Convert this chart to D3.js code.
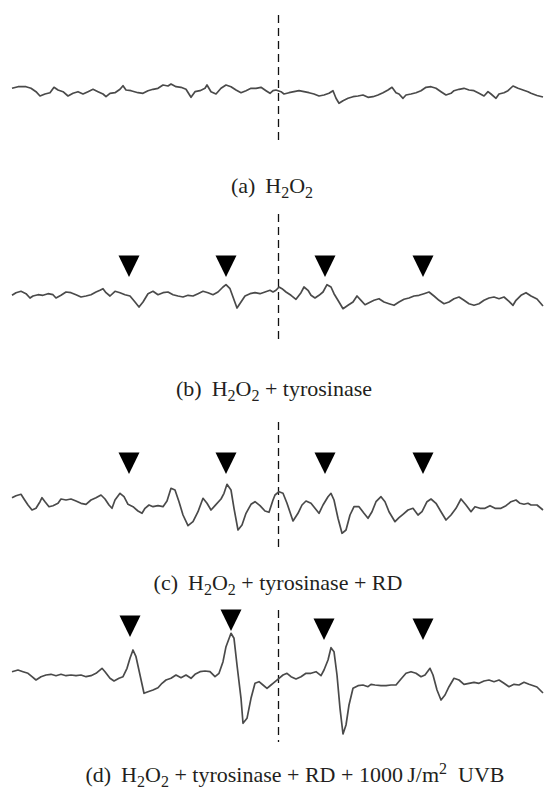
<!DOCTYPE html>
<meta charset="utf-8">
<head>
<style>
  body { margin: 0; background: #fff; }
  svg { display: block; }
  .trace { fill: none; stroke: #4a4a4a; stroke-width: 1.7; stroke-linejoin: round; }
  .center { stroke: #111; stroke-width: 1.3; stroke-dasharray: 8 5; }
  .marker { fill: #000; }
  .caption { font-family: "Liberation Serif", "Times New Roman", serif; font-size: 22px; fill: #231f20; }
</style>
<script src="https://d3js.org/d3.v7.min.js"></script>
</head>
<body>
<div id="chart"></div>
<script>
// EPR spectra, field sweep in arbitrary units, signal in arbitrary units (up = positive)
var traceA = [[0,2.7],[6,4.3],[14,4.3],[19,2.7],[24,-0.7],[28,-5],[33,-3],[38,-1.7],[42,3.7],[46,1],
  [51,-0.7],[56,-5],[61,-2.3],[66,-0.7],[71,-3],[76,-0.7],[81,1.7],[86,-0.7],[91,-3],[94,-5.7],
  [98,-2.3],[103,-1.7],[108,1.7],[111,5.3],[114,1],[119,0.3],[126,-1.7],[131,-2.3],[136,0.3],[141,1.7],
  [146,2.7],[151,6],[156,5],[159,7],[164,4.3],[169,3.7],[174,1.7],[179,-6.3],[183,-0.7],[188,0.3],
  [193,2.7],[195,6],[199,-0.7],[204,-3],[209,2.7],[214,6],[219,4.3],[224,1],[229,-1.7],[234,0.3],
  [239,2.7],[244,2.7],[249,3.7],[254,0.3],[258,-2.3],[261,0.3],[264,1],[269,-0.7],[272,-3],[277,-1.7],
  [282,-0.7],[287,0.3],[292,-0.7],[297,-1.7],[302,-3],[307,-5],[312,-4],[317,-2.3],[321,0.3],[324,-7.3],
  [327,-12.3],[331,-9.7],[336,-7.3],[341,-5.7],[346,-5],[351,-4],[356,-6.3],[361,-5.7],[366,-4],[371,-1.7],
  [376,1],[380,3.7],[384,-1.7],[387,-3],[391,-7.3],[394,-4],[399,-3],[404,-1.7],[409,0.3],[414,3.7],
  [419,4.3],[424,2.7],[429,-0.7],[434,-4],[439,-2.3],[442,0.3],[447,1.7],[452,2.7],[457,1],[462,0.3],
  [467,-2.3],[472,-5],[476,-0.7],[479,-3],[484,-7.3],[487,-3],[492,-1.7],[496,0.3],[501,5],[506,2.7],
  [511,1],[516,-0.7],[519,-2.3],[525,-4.5],[531,-6]];

var traceB = [[0,-0.3],[4,2.3],[9,3.7],[14,1.3],[18,-3],[21,-1],[26,0.3],[31,-0.3],[36,1.3],[41,0.3],
  [44,-3],[49,-0.3],[54,3],[59,2.3],[64,0.3],[69,-2],[74,-1],[79,0.3],[84,3],[88,4.7],
  [91,6.3],[94,2.3],[98,-1],[103,3.7],[108,2.3],[113,0.3],[118,-1],[123,-7],[127,-12],[131,-7],
  [136,1.3],[141,3.7],[146,0.3],[151,2.3],[156,3],[161,0.3],[166,-1],[171,-2],[176,-0.3],[181,-1],
  [186,1.3],[191,3.7],[196,2.3],[201,0.3],[206,3],[211,8],[214,10.3],[218,6.3],[221,-2],[225,-13],
  [229,-7],[233,-1],[238,1.3],[243,2.3],[248,1.3],[253,3],[258,4.7],[261,3],[264,4.7],[267,8],
  [270,6.3],[274,3],[279,-0.3],[284,-4.3],[289,2.3],[292,8],[296,4.7],[299,-0.3],[303,-3],[307,-0.3],
  [311,3],[315,10.3],[319,8],[322,1.3],[327,-7],[331,-13.7],[336,-10.3],[341,-7],[345,-1],[349,-5.3],
  [353,-9.7],[357,-7.7],[362,-5.3],[367,-3.7],[372,-7],[377,-8.7],[382,-10.3],[387,-7],[392,-4.3],[397,-3],
  [402,-1],[407,-0.3],[412,1.3],[417,3],[422,-1],[427,-5.3],[432,-8.7],[437,-7],[442,-3.7],[447,-2],
  [452,-5.3],[457,-8.7],[462,-10.3],[467,-8.7],[472,-5.3],[477,-3],[482,-2],[487,-3.7],[492,-2],[497,-6.3],
  [501,-10.3],[504,-5.3],[509,-0.3],[514,2.3],[519,-1],[525,-4],[531,-11]];

var traceC = [[0,5.3],[4,7.3],[9,8.7],[12,4],[16,-2],[20,-7],[24,-5.3],[28,1.3],[30,5.3],[33,1.3],
  [37,-3.7],[41,-2.7],[46,-0.3],[49,4],[54,3],[59,4],[64,2],[69,-0.3],[74,-1.3],[79,3],
  [84,5.3],[89,8],[93,4],[97,-2],[100,-5.3],[103,3],[108,9.7],[112,6.3],[116,-1.3],[121,-3.7],
  [126,-8],[130,-10.3],[133,-5.3],[137,-2],[141,-3.7],[146,-2.7],[151,-3.7],[155,2],[159,14.7],[163,13],
  [167,1.3],[171,-12],[176,-22.7],[181,-18.7],[186,-8.7],[191,4.7],[195,-0.3],[199,-7],[203,-2.7],[209,4],
  [212,9.7],[215,18.7],[219,13],[222,-5.3],[226,-27],[230,-22],[234,-10.3],[239,-1.3],[243,1.3],[248,-2.7],
  [253,-8],[257,-9.3],[261,3],[263,8],[267,11.3],[271,9.7],[275,-0.3],[281,-18],[286,-10.3],[290,-2],
  [294,2],[299,-0.3],[303,-5.3],[307,-10.3],[311,-2],[316,6.3],[319,9.7],[322,3],[326,-15.3],[330,-30.3],
  [334,-27],[338,-12],[342,-3.7],[347,-3.7],[352,-10.3],[356,-15.3],[360,-8.7],[364,1.3],[369,6.3],[373,1.3],
  [377,-8.7],[383,-18.7],[387,-14.7],[391,-11.3],[396,-7],[401,-5.3],[406,-12],[410,-8.7],[415,1.3],[419,4],
  [424,-0.3],[429,-8.7],[434,-17],[439,-12],[444,-5.3],[449,4],[454,-2],[459,-8.7],[463,-3.7],[468,-5.3],
  [473,-5.3],[478,-2.7],[483,-5.3],[489,-5.3],[494,-2.7],[499,1.3],[504,3],[508,-0.3],[512,-1.3],[516,-0.3],
  [519,-2],[525,-2],[531,-7]];

var traceD = [[0,5.3],[6,7],[11,5.3],[16,3.7],[20,0.3],[24,-3],[29,0.3],[34,2],[39,2.7],[44,1.3],
  [49,2.7],[54,1.3],[59,2],[64,1.3],[69,2],[74,0.3],[79,1.3],[84,3.7],[90,8.7],[93,5.3],
  [98,-1.3],[102,-4],[107,-1.3],[111,0.3],[115,8.7],[118,18.7],[121,27],[124,20.3],[128,2],[132,-16.3],
  [136,-14.7],[141,-13],[146,-10.7],[150,-6.3],[154,-3],[159,-1.3],[164,2],[169,-0.7],[174,2],[179,-1.3],
  [183,2.7],[188,5.3],[193,6],[198,5.3],[203,0.3],[207,3.7],[211,15.3],[214,30.3],[219,43.7],[222,38.7],
  [225,12],[229,-21.3],[231,-46.3],[235,-41.3],[239,-21.3],[243,-6.3],[247,-4.7],[251,-8],[255,-11.3],[259,-8],
  [261,-6.3],[267,-1.3],[271,2],[275,3.7],[279,0.3],[284,-2],[289,0.3],[294,3.7],[299,3.7],[304,5.3],
  [309,1.3],[312,7],[316,17],[319,29.3],[322,25.3],[325,2],[328,-31.3],[331,-57],[334,-48],[337,-28],
  [341,-11.3],[346,-8.7],[351,-8],[356,-9.7],[359,-7.3],[363,-8],[369,-8.7],[374,-8.7],[379,-8],[384,-8],
  [389,-2],[394,3.7],[399,5.3],[404,3.7],[409,0.3],[413,2],[418,8.7],[421,2],[425,-13],[429,-23],
  [433,-18],[437,-9.7],[442,-1.3],[447,-3],[452,-7.3],[457,-6.3],[462,-5.3],[467,-6.3],[472,-4],[477,-3],
  [482,-4.7],[487,-3],[492,-6.3],[497,-9.7],[502,-7.3],[507,-8],[512,-5.3],[517,-7.3],[525,-10],[531,-16]];

// arrowhead markers: field position and signal level of the tip
var markerField = [117, 214, 313, 411];
var markerFieldD = [118, 219, 312, 411];
var markerB = [18, 18, 18, 18];
var markerC = [29, 29, 29, 29];
var markerD = [40, 46, 37, 37];

var centerField = 266.5;

var panels = [
  { trace: traceA, base: 91,  top: 15,  bottom: 144, markers: null,
    label: "(a)", parts: [], capX: 272, capY: 193 },
  { trace: traceB, base: 295, top: 214, bottom: 342, markers: markerB, mfield: markerField,
    label: "(b)", parts: [" + tyrosinase"], capX: 274, capY: 396 },
  { trace: traceC, base: 503, top: 422, bottom: 552, markers: markerC, mfield: markerField,
    label: "(c)", parts: [" + tyrosinase + RD"], capX: 278, capY: 590 },
  { trace: traceD, base: 677, top: 610, bottom: 742, markers: markerD, mfield: markerFieldD,
    label: "(d)", parts: [" + tyrosinase + RD + 1000\u2009J/m", "sup2", "\u00a0\u00a0UVB"], capX: 295, capY: 782 }
];

var width = 544, height = 793;

var svg = d3.select("#chart").append("svg")
  .attr("width", width)
  .attr("height", height);

var x = d3.scaleLinear().domain([0, 531]).range([12, 543]);

panels.forEach(function (p) {
  var y = d3.scaleLinear().domain([-100, 100]).range([p.base + 100, p.base - 100]);
  var g = svg.append("g");

  g.append("line")
    .attr("class", "center")
    .attr("x1", x(centerField)).attr("x2", x(centerField))
    .attr("y1", p.top).attr("y2", p.bottom);

  var line = d3.line()
    .x(function (d) { return x(d[0]); })
    .y(function (d) { return y(d[1]); });

  g.append("path")
    .datum(p.trace)
    .attr("class", "trace")
    .attr("d", line);

  if (p.markers) {
    g.selectAll(".marker")
      .data(p.markers)
      .enter().append("path")
      .attr("class", "marker")
      .attr("transform", function (d, i) { return "translate(" + x(p.mfield[i]) + "," + y(d) + ")"; })
      .attr("d", "M-10.5,-21.5L10.5,-21.5L0,0Z");
  }

  var t = g.append("text")
    .attr("class", "caption")
    .attr("text-anchor", "middle")
    .attr("x", p.capX)
    .attr("y", p.capY);

  t.append("tspan").text(p.label);
  t.append("tspan").attr("dx", 10).text("H");
  t.append("tspan").attr("dy", 5).attr("font-size", "16px").text("2");
  t.append("tspan").attr("dy", -5).text("O");
  t.append("tspan").attr("dy", 5).attr("font-size", "16px").text("2");
  var shift = -5;
  p.parts.forEach(function (s) {
    if (s === "sup2") {
      t.append("tspan").attr("dy", shift - 8).attr("font-size", "16px").text("2");
      shift = 8;
      return;
    }
    t.append("tspan").attr("dy", shift).text(s);
    shift = 0;
  });
  if (!p.parts.length) t.append("tspan").attr("dy", -5).text("");
});
</script>
</body>
